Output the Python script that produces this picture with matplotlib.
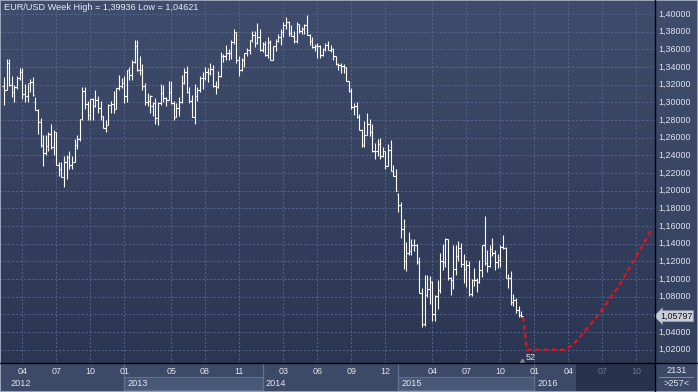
"""
EUR/USD weekly OHLC bars, Feb 2012 - Nov 2015, with a dashed red projection
into 2016. Terminal-style dark chart recreated in matplotlib.
"""
import numpy as np
import pandas as pd
import matplotlib
matplotlib.use("Agg")
import matplotlib.pyplot as plt
from matplotlib.colors import LinearSegmentedColormap
from matplotlib.lines import Line2D
from matplotlib.patches import Rectangle

plt.rcParams["font.family"] = ["Liberation Sans", "DejaVu Sans"]

W, H = 698, 392          # figure size, px
PANE_R, PANE_B = 655, 363  # price pane right / bottom edge, px
X0_PX, PX_PER_WEEK = 4.0, 2.612
Y_TOP_PRICE, PX_PER_UNIT = 1.40, 883.5  # 1.40 sits at y=14 px

FIRST_WEEK = "2012-02-13"

# weekly bars, one line of ten per row; years: 2012 | 2013 | 2014 | 2015
OPEN = [
    1.3180, 1.3140, 1.3450, 1.3200, 1.3120, 1.3175, 1.3275, 1.3345, 1.3100, 1.3075,
    1.3215, 1.3235, 1.3000, 1.2915, 1.2780, 1.2515, 1.2430, 1.2510, 1.2645, 1.2500,
    1.2660, 1.2290, 1.2245, 1.2155, 1.2320, 1.2385, 1.2290, 1.2330, 1.2515, 1.2580,
    1.2815, 1.3125, 1.2980, 1.2860, 1.3035, 1.2955, 1.3025, 1.2940, 1.2840, 1.2710,
    1.2745, 1.2975, 1.2985, 1.2930, 1.3160, 1.3180,
    1.3215, 1.3070, 1.3365, 1.3315, 1.3455, 1.3640, 1.3365, 1.3365, 1.3190, 1.3000,
    1.3010, 1.2960, 1.2990, 1.2820, 1.2990, 1.3110, 1.3050, 1.3030, 1.3115, 1.2990,
    1.2830, 1.2935, 1.3000, 1.3220, 1.3345, 1.3120, 1.3010, 1.2835, 1.3070, 1.3145,
    1.3280, 1.3280, 1.3340, 1.3330, 1.3380, 1.3190, 1.3175, 1.3300, 1.3525, 1.3525,
    1.3555, 1.3555, 1.3685, 1.3800, 1.3485, 1.3365, 1.3480, 1.3555, 1.3590, 1.3705,
    1.3765, 1.3675, 1.3745,
    1.3590, 1.3665, 1.3540, 1.3680, 1.3485, 1.3635, 1.3690, 1.3745, 1.3800, 1.3875,
    1.3910, 1.3790, 1.3750, 1.3700, 1.3885, 1.3810, 1.3830, 1.3870, 1.3760, 1.3695,
    1.3630, 1.3635, 1.3640, 1.3540, 1.3605, 1.3645, 1.3590, 1.3605, 1.3525, 1.3430,
    1.3425, 1.3410, 1.3395, 1.3240, 1.3130, 1.2950, 1.2960, 1.2830, 1.2685, 1.2520,
    1.2630, 1.2760, 1.2670, 1.2450, 1.2445, 1.2525, 1.2390, 1.2450, 1.2285, 1.2465,
    1.2225, 1.2170,
    1.1960, 1.1840, 1.1565, 1.1205, 1.1290, 1.1315, 1.1390, 1.1380, 1.1195, 1.0845,
    1.0495, 1.0825, 1.0890, 1.0970, 1.0600, 1.0810, 1.0875, 1.1200, 1.1195, 1.1450,
    1.1015, 1.0985, 1.1115, 1.1265, 1.1350, 1.1165, 1.1110, 1.1160, 1.0830, 1.0985,
    1.0985, 1.0970, 1.1105, 1.1385, 1.1185, 1.1150, 1.1340, 1.1300, 1.1195, 1.1210,
    1.1360, 1.1350, 1.1015, 1.1010, 1.0740, 1.0765, 1.0645, 1.0595,
]
HIGH = [
    1.3290, 1.3487, 1.3486, 1.3300, 1.3200, 1.3295, 1.3385, 1.3385, 1.3212, 1.3210,
    1.3265, 1.3283, 1.3060, 1.2920, 1.2825, 1.2625, 1.2625, 1.2670, 1.2750, 1.2690,
    1.2665, 1.2330, 1.2320, 1.2390, 1.2405, 1.2445, 1.2390, 1.2590, 1.2635, 1.2815,
    1.3170, 1.3170, 1.3010, 1.3040, 1.3045, 1.3140, 1.3075, 1.3015, 1.2845, 1.2800,
    1.2980, 1.3010, 1.3125, 1.3165, 1.3310, 1.3270,
    1.3300, 1.3370, 1.3405, 1.3480, 1.3710, 1.3710, 1.3520, 1.3430, 1.3220, 1.3110,
    1.3080, 1.3000, 1.3050, 1.3005, 1.3205, 1.3200, 1.3060, 1.3245, 1.3240, 1.3010,
    1.2990, 1.3060, 1.3305, 1.3390, 1.3415, 1.3175, 1.3080, 1.3210, 1.3175, 1.3295,
    1.3345, 1.3400, 1.3390, 1.3450, 1.3425, 1.3240, 1.3350, 1.3570, 1.3545, 1.3645,
    1.3605, 1.3705, 1.3835, 1.3800, 1.3530, 1.3500, 1.3560, 1.3620, 1.3705, 1.3810,
    1.3810, 1.3895, 1.3830,
    1.3685, 1.3700, 1.3740, 1.3705, 1.3640, 1.3720, 1.3775, 1.3825, 1.3915, 1.3965,
    1.3925, 1.3875, 1.3810, 1.3905, 1.3890, 1.3850, 1.3890, 1.3994, 1.3775, 1.3735,
    1.3655, 1.3675, 1.3645, 1.3615, 1.3675, 1.3700, 1.3645, 1.3620, 1.3530, 1.3445,
    1.3445, 1.3435, 1.3400, 1.3245, 1.3165, 1.2990, 1.3000, 1.2865, 1.2700, 1.2790,
    1.2885, 1.2815, 1.2750, 1.2535, 1.2580, 1.2600, 1.2500, 1.2455, 1.2530, 1.2570,
    1.2290, 1.2250,
    1.1970, 1.1870, 1.1680, 1.1425, 1.1535, 1.1450, 1.1450, 1.1395, 1.1245, 1.0900,
    1.1045, 1.1050, 1.1030, 1.0980, 1.0820, 1.0990, 1.1290, 1.1395, 1.1465, 1.1450,
    1.1020, 1.1385, 1.1385, 1.1435, 1.1410, 1.1280, 1.1215, 1.1200, 1.1000, 1.1130,
    1.1015, 1.1215, 1.1390, 1.1715, 1.1330, 1.1390, 1.1460, 1.1330, 1.1280, 1.1390,
    1.1495, 1.1365, 1.1060, 1.1095, 1.0830, 1.0790, 1.0690, 1.0640,
]
LOW = [
    1.2973, 1.3135, 1.3190, 1.3055, 1.3005, 1.3150, 1.3250, 1.3035, 1.3002, 1.3000,
    1.3120, 1.3075, 1.2910, 1.2640, 1.2495, 1.2285, 1.2400, 1.2445, 1.2475, 1.2405,
    1.2290, 1.2165, 1.2150, 1.2040, 1.2135, 1.2240, 1.2240, 1.2330, 1.2470, 1.2560,
    1.2800, 1.2930, 1.2800, 1.2800, 1.2805, 1.2950, 1.2880, 1.2800, 1.2705, 1.2660,
    1.2740, 1.2880, 1.2880, 1.2925, 1.3140, 1.3160,
    1.2998, 1.3000, 1.3255, 1.3250, 1.3440, 1.3360, 1.3315, 1.3145, 1.2965, 1.2955,
    1.2880, 1.2845, 1.2750, 1.2745, 1.2970, 1.3000, 1.2955, 1.3030, 1.2985, 1.2800,
    1.2830, 1.2850, 1.2995, 1.3205, 1.3110, 1.2990, 1.2830, 1.2755, 1.3010, 1.3120,
    1.3150, 1.3255, 1.3235, 1.3310, 1.3175, 1.3100, 1.3165, 1.3290, 1.3460, 1.3475,
    1.3475, 1.3490, 1.3655, 1.3440, 1.3295, 1.3360, 1.3400, 1.3525, 1.3545, 1.3680,
    1.3625, 1.3655, 1.3585,
    1.3575, 1.3520, 1.3505, 1.3480, 1.3475, 1.3585, 1.3680, 1.3645, 1.3735, 1.3825,
    1.3750, 1.3750, 1.3675, 1.3675, 1.3790, 1.3775, 1.3770, 1.3760, 1.3650, 1.3615,
    1.3585, 1.3500, 1.3500, 1.3525, 1.3585, 1.3590, 1.3570, 1.3475, 1.3420, 1.3365,
    1.3335, 1.3335, 1.3240, 1.3120, 1.2920, 1.2860, 1.2825, 1.2685, 1.2500, 1.2500,
    1.2625, 1.2615, 1.2440, 1.2360, 1.2395, 1.2360, 1.2380, 1.2245, 1.2275, 1.2220,
    1.2165, 1.2000,
    1.1755, 1.1460, 1.1115, 1.1095, 1.1270, 1.1270, 1.1315, 1.1175, 1.0840, 1.0462,
    1.0465, 1.0795, 1.0715, 1.0520, 1.0520, 1.0660, 1.0845, 1.1100, 1.1135, 1.0990,
    1.0820, 1.0890, 1.1050, 1.1200, 1.1135, 1.0955, 1.0915, 1.0810, 1.0810, 1.0925,
    1.0850, 1.0960, 1.1020, 1.1155, 1.1085, 1.1140, 1.1260, 1.1105, 1.1120, 1.1135,
    1.1340, 1.1015, 1.0895, 1.0705, 1.0690, 1.0615, 1.0565, 1.0565,
]
CLOSE = [
    1.3140, 1.3450, 1.3200, 1.3120, 1.3175, 1.3275, 1.3345, 1.3100, 1.3075, 1.3215,
    1.3235, 1.3085, 1.2915, 1.2780, 1.2515, 1.2430, 1.2510, 1.2645, 1.2500, 1.2660,
    1.2290, 1.2245, 1.2155, 1.2320, 1.2385, 1.2290, 1.2330, 1.2515, 1.2580, 1.2815,
    1.3125, 1.2980, 1.2860, 1.3035, 1.2955, 1.3025, 1.2940, 1.2840, 1.2710, 1.2745,
    1.2975, 1.2985, 1.2930, 1.3160, 1.3180, 1.3215,
    1.3070, 1.3365, 1.3315, 1.3455, 1.3640, 1.3365, 1.3365, 1.3190, 1.3000, 1.3010,
    1.3070, 1.2990, 1.2820, 1.2990, 1.3110, 1.3050, 1.3030, 1.3115, 1.2990, 1.2830,
    1.2935, 1.3000, 1.3220, 1.3345, 1.3120, 1.3010, 1.2835, 1.3070, 1.3145, 1.3280,
    1.3280, 1.3340, 1.3330, 1.3380, 1.3190, 1.3175, 1.3300, 1.3525, 1.3525, 1.3555,
    1.3555, 1.3685, 1.3800, 1.3485, 1.3365, 1.3480, 1.3555, 1.3590, 1.3705, 1.3765,
    1.3675, 1.3745, 1.3590,
    1.3665, 1.3540, 1.3680, 1.3485, 1.3635, 1.3690, 1.3745, 1.3800, 1.3875, 1.3910,
    1.3790, 1.3750, 1.3700, 1.3885, 1.3810, 1.3830, 1.3870, 1.3760, 1.3695, 1.3630,
    1.3635, 1.3640, 1.3540, 1.3605, 1.3645, 1.3590, 1.3605, 1.3525, 1.3430, 1.3425,
    1.3410, 1.3395, 1.3240, 1.3130, 1.2950, 1.2960, 1.2830, 1.2685, 1.2520, 1.2630,
    1.2760, 1.2670, 1.2450, 1.2445, 1.2525, 1.2390, 1.2450, 1.2285, 1.2465, 1.2225,
    1.2170, 1.2000,
    1.1840, 1.1565, 1.1205, 1.1290, 1.1315, 1.1390, 1.1380, 1.1195, 1.0845, 1.0495,
    1.0825, 1.0890, 1.0970, 1.0600, 1.0810, 1.0875, 1.1200, 1.1195, 1.1450, 1.1015,
    1.0985, 1.1115, 1.1265, 1.1350, 1.1165, 1.1110, 1.1160, 1.0830, 1.0985, 1.0985,
    1.0970, 1.1105, 1.1385, 1.1185, 1.1150, 1.1340, 1.1300, 1.1195, 1.1210, 1.1360,
    1.1350, 1.1015, 1.1010, 1.0740, 1.0765, 1.0645, 1.0595, 1.0580,
]

# red dashed projection (week index, price)
PROJ_WEEK = [198.7, 200.2, 215.2, 218.6, 222.4, 228.2, 235.8, 243.5, 248.1]
PROJ_PRICE = [1.057, 1.020, 1.020, 1.028, 1.041, 1.062, 1.094, 1.133, 1.157]

TICK_DATES = ["2012-04-02", "2012-07-02", "2012-10-01", "2012-12-31", "2013-05-06",
              "2013-08-05", "2013-11-04", "2014-03-03", "2014-06-02", "2014-09-01",
              "2014-12-01", "2015-04-06", "2015-07-06", "2015-10-05", "2016-01-04",
              "2016-04-04", "2016-07-04", "2016-10-03"]
TICK_LABELS = ["04", "07", "10", "01", "05", "08", "11", "03", "06", "09",
               "12", "04", "07", "10", "01", "04", "07", "10"]
YEAR_STARTS = ["2012-02-13", "2012-12-31", "2014-01-06", "2015-01-05", "2016-01-04"]
YEAR_LABELS = ["2012", "2013", "2014", "2015", "2016"]
FUTURE_START = "2016-04-25"

PRICE_LEVELS = [1.02, 1.04, 1.06, 1.08, 1.10, 1.12, 1.14, 1.16, 1.18, 1.20,
                1.22, 1.24, 1.26, 1.28, 1.30, 1.32, 1.34, 1.36, 1.38, 1.40]
LAST_PRICE = 1.05797
TITLE = "EUR/USD Week High = 1,39936 Low = 1,04621"

TXT = "#dfe5ef"
GRID = "#56658a"


def week_of(dates):
    d = pd.to_datetime(dates) - pd.Timestamp(FIRST_WEEK)
    return np.asarray(d.days, dtype=float) / 7.0


def px_rect(x0, y0, x1, y1):
    return [x0 / W, 1 - y1 / H, (x1 - x0) / W, (y1 - y0) / H]


def gradient(ax, top, bottom):
    cmap = LinearSegmentedColormap.from_list("g", [top, bottom])
    ax.imshow(np.linspace(0, 1, 256).reshape(-1, 1), cmap=cmap, aspect="auto",
              extent=[0, 1, 0, 1], transform=ax.transAxes, zorder=0)


def bare(ax):
    ax.set_xticks([])
    ax.set_yticks([])
    for s in ax.spines.values():
        s.set_visible(False)


xlim = (-X0_PX / PX_PER_WEEK, (PANE_R - X0_PX) / PX_PER_WEEK)
ylim = (Y_TOP_PRICE - (PANE_B - 14) / PX_PER_UNIT, Y_TOP_PRICE + 14 / PX_PER_UNIT)

fig = plt.figure(figsize=(W / 100, H / 100), dpi=100)
fig.patch.set_facecolor("#3c4966")

ax = fig.add_axes(px_rect(0, 0, PANE_R, PANE_B))
right = fig.add_axes(px_rect(PANE_R, 0, W, PANE_B))
bottom = fig.add_axes(px_rect(0, PANE_B, PANE_R, H))
corner = fig.add_axes(px_rect(PANE_R, PANE_B, W, H))
for a in (ax, right, bottom, corner):
    bare(a)

# ---- price pane
gradient(ax, "#3f4c6b", "#2b3653")
weeks = np.arange(len(CLOSE))
ticks = week_of(TICK_DATES)
for p in PRICE_LEVELS:
    ax.axhline(p, color=GRID, lw=0.7, ls=(0, (2, 2)), zorder=1)
for t in ticks:
    ax.axvline(t, color=GRID, lw=0.7, ls=(0, (2, 2)), zorder=1)

ax.vlines(weeks, LOW, HIGH, color="white", lw=0.8, zorder=3)
ax.hlines(OPEN, weeks - 0.6, weeks, color="white", lw=0.8, zorder=3)
ax.hlines(CLOSE, weeks, weeks + 0.6, color="white", lw=0.8, zorder=3)

ax.plot(PROJ_WEEK, PROJ_PRICE, color="#e8101c", lw=1.6, dashes=(2.2, 1.5), zorder=4)
ax.plot([198.3], [1.0075], marker="^", ms=3.5, color="#7f8aa0", zorder=4)
ax.text(201.8, 1.0110, "52", ha="center", va="center", fontsize=6.4, color=TXT, zorder=5)
ax.set_xlim(*xlim)
ax.set_ylim(*ylim)

# ---- right price scale
gradient(right, "#3f4c6b", "#34415e")
right.set_xlim(0, W - PANE_R)
right.set_ylim(*ylim)
for p in PRICE_LEVELS:
    if p == 1.06:
        continue
    right.text(3, p, f"{p:.5f}".replace(".", ","), ha="left", va="center",
               fontsize=6.4, color=TXT)
right.text(5, LAST_PRICE, f"{LAST_PRICE:.5f}".replace(".", ","), ha="left",
           va="center", fontsize=6.4, color="#151515",
           bbox=dict(boxstyle="larrow,pad=0.12", fc="#c9ced8", ec="#8d95a5", lw=0.5))

# ---- time scale
bottom.set_facecolor("#3d4a67")
bottom.set_xlim(*xlim)
bottom.set_ylim(29, 0)
ystart = week_of(YEAR_STARTS)
yend = list(ystart[1:]) + [week_of([FUTURE_START])[0]]
for i, (x0, x1, lab) in enumerate(zip(ystart, yend, YEAR_LABELS)):
    if i % 2 == 1:
        bottom.add_patch(Rectangle((x0, 13.7), x1 - x0, 13.5, fc="#4a5878",
                                   ec="#5f6e8d", lw=0.8, zorder=1))
    if i > 0:
        bottom.axvline(x0, color="#61708e", lw=0.9, zorder=2)
    lx = x0 + 2.3 if i == 0 else x0 + 1.2
    bottom.text(lx, 20.3, lab, ha="left", va="center", fontsize=6.6, color=TXT, zorder=3)

fut = week_of([FUTURE_START])[0]
bottom.add_patch(Rectangle((fut, 0), xlim[1] - fut, 29, fc="#27324c", ec="none", zorder=1))
for t, lab in zip(ticks, TICK_LABELS):
    col = "#6a7690" if t >= fut else TXT
    bottom.text(t, 8.8, lab, ha="center", va="center", fontsize=6.4, color=col, zorder=3)

# ---- corner box
corner.set_facecolor("#3d4a67")
corner.set_xlim(0, W - PANE_R)
corner.set_ylim(29, 0)
corner.text(21.5, 7.5, "2131", ha="center", va="center", fontsize=6.6, color=TXT)
corner.text(21.5, 20.0, ">257<", ha="center", va="center", fontsize=6.6, color=TXT)
corner.plot([4, 38], [13.7, 13.7], color="#8f9ab0", lw=0.6)

# separators and outer frame
fig.add_artist(Line2D([PANE_R / W] * 2, [0, 1], color="black", lw=1.0,
                      transform=fig.transFigure))
fig.add_artist(Line2D([0, 1], [1 - PANE_B / H] * 2, color="black", lw=1.0,
                      transform=fig.transFigure))
fig.add_artist(Rectangle((0, 0), 1, 1, transform=fig.transFigure, fill=False,
                         ec="#9ba7bd", lw=1.4))

fig.text(4 / W, 1 - 3 / H, TITLE, ha="left", va="top", fontsize=6.6, color="#e6ebf3")

fig.savefig("out.png", dpi=100, facecolor=fig.get_facecolor())
